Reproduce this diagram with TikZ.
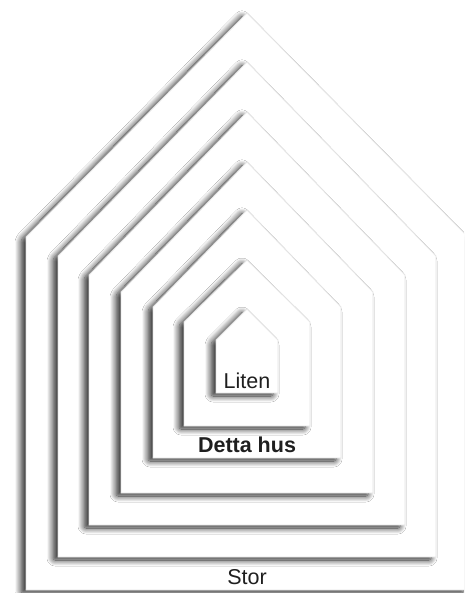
\documentclass[tikz,border=0pt]{standalone}
\usepackage{fontspec}
\setmainfont{Liberation Sans}
\usetikzlibrary{shadows.blur}
\begin{document}
\begin{tikzpicture}[x=1pt,y=-1pt,
  house/.style={fill=white, draw=black!10, line width=0.8pt,
    blur shadow={shadow xshift=-5pt, shadow yshift=-3pt, shadow blur radius=6pt, shadow opacity=85, shadow blur steps=16, shadow blur extra rounding=2pt}},
  lbl/.style={font=\fontsize{21.5}{24}\selectfont, text=black!88, inner sep=0pt}]
\useasboundingbox[fill=white] (0,0) rectangle (464,593);
\begin{scope}
\clip (0,0) rectangle (464,593);
\foreach \L/\A/\E/\B in {26/13/237/590, 58/62/256/557, 89/112/275/525, 121/162/292/493, 153/210/307/458, 184/260/322/426, 216/309/340/393}{
  \pgfmathsetmacro{\R}{494-\L}
  \path[house] (\L,\B) -- (\L,\E) -- (247,\A) -- (\R,\E) -- (\R,\B) -- cycle;
}
\end{scope}
\node[lbl] (liten) at (247,381) {Liten};
\node[lbl, font=\fontsize{21.5}{24}\selectfont\bfseries] (detta) at (247,445) {Detta hus};
\node[lbl] (stor) at (247,577) {Stor};
\end{tikzpicture}
\end{document}
